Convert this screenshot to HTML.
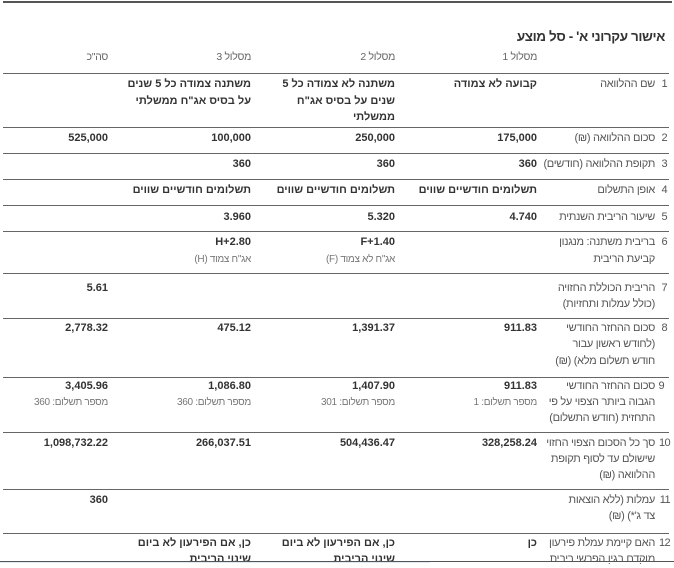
<!DOCTYPE html>
<html lang="he">
<head>
<meta charset="utf-8">
<style>
  html,body{margin:0;padding:0;background:#fff;}
  body{width:674px;height:563px;position:relative;overflow:hidden;
       font-family:"Liberation Sans","DejaVu Sans",sans-serif;}
  .t{position:absolute;direction:rtl;white-space:nowrap;text-align:right;line-height:16.5px;}
  .lbl{font-size:11px;letter-spacing:-0.3px;color:#555;}
  .num{font-size:11px;letter-spacing:-0.6px;color:#555;}
  .v{font-size:11px;font-weight:bold;color:#333;}
  .s{font-size:10px;letter-spacing:-0.3px;color:#777;}
  .h{font-size:10.5px;letter-spacing:-0.3px;color:#666;}
  .hl{position:absolute;left:3px;width:666px;height:1.5px;background:#666;}
</style>
</head>
<body>
<div style="position:absolute;left:3px;top:1px;width:669px;height:1.5px;background:#555;"></div>

<div class="t" style="right:9px;top:27px;font-size:13.5px;letter-spacing:-0.4px;font-weight:bold;color:#333;line-height:20px;">אישור עקרוני א' - סל מוצע</div>

<div class="t h" style="right:137px;top:48.5px;">מסלול 1</div>
<div class="t h" style="right:279px;top:48.5px;">מסלול 2</div>
<div class="t h" style="right:423px;top:48.5px;">מסלול 3</div>
<div class="t h" style="right:566px;top:48.5px;">סה"כ</div>

<div class="hl" style="top:72.5px"></div>
<div class="hl" style="top:126.5px"></div>
<div class="hl" style="top:152.5px"></div>
<div class="hl" style="top:178.5px"></div>
<div class="hl" style="top:204.5px"></div>
<div class="hl" style="top:230.5px"></div>
<div class="hl" style="top:272.5px"></div>
<div class="hl" style="top:317.5px"></div>
<div class="hl" style="top:376.5px"></div>
<div class="hl" style="top:431.5px"></div>
<div class="hl" style="top:488.5px"></div>
<div class="hl" style="top:532.5px"></div>

<!-- Row 1 -->
<div class="t num" style="right:7px;top:76px;">1</div>
<div class="t lbl" style="right:19px;top:76px;">שם ההלוואה</div>
<div class="t v" style="right:137px;top:76px;">קבועה לא צמודה</div>
<div class="t v" style="right:279px;top:76px;">משתנה לא צמודה כל 5<br>שנים על בסיס אג"ח<br>ממשלתי</div>
<div class="t v" style="right:423px;top:76px;">משתנה צמודה כל 5 שנים<br>על בסיס אג"ח ממשלתי</div>

<!-- Row 2 -->
<div class="t num" style="right:7px;top:129.5px;">2</div>
<div class="t lbl" style="right:19px;top:129.5px;">סכום ההלוואה (₪)</div>
<div class="t v" style="right:137px;top:129.5px;">175,000</div>
<div class="t v" style="right:279px;top:129.5px;">250,000</div>
<div class="t v" style="right:423px;top:129.5px;">100,000</div>
<div class="t v" style="right:566px;top:129.5px;">525,000</div>

<!-- Row 3 -->
<div class="t num" style="right:7px;top:155.5px;">3</div>
<div class="t lbl" style="right:19px;top:155.5px;">תקופת ההלוואה (חודשים)</div>
<div class="t v" style="right:137px;top:155.5px;">360</div>
<div class="t v" style="right:279px;top:155.5px;">360</div>
<div class="t v" style="right:423px;top:155.5px;">360</div>

<!-- Row 4 -->
<div class="t num" style="right:7px;top:181.5px;">4</div>
<div class="t lbl" style="right:19px;top:181.5px;">אופן התשלום</div>
<div class="t v" style="right:137px;top:181.5px;">תשלומים חודשיים שווים</div>
<div class="t v" style="right:279px;top:181.5px;">תשלומים חודשיים שווים</div>
<div class="t v" style="right:423px;top:181.5px;">תשלומים חודשיים שווים</div>

<!-- Row 5 -->
<div class="t num" style="right:7px;top:208.5px;">5</div>
<div class="t lbl" style="right:19px;top:208.5px;">שיעור הריבית השנתית</div>
<div class="t v" style="right:137px;top:208.5px;">4.740</div>
<div class="t v" style="right:279px;top:208.5px;">5.320</div>
<div class="t v" style="right:423px;top:208.5px;">3.960</div>

<!-- Row 6 -->
<div class="t num" style="right:7px;top:233.5px;">6</div>
<div class="t lbl" style="right:19px;top:233.5px;line-height:17.5px;">בריבית משתנה: מנגנון<br>קביעת הריבית</div>
<div class="t v" style="right:279px;top:233.5px;">F+1.40</div>
<div class="t s" style="right:279px;top:251.5px;">אג"ח לא צמוד (F)</div>
<div class="t v" style="right:423px;top:233.5px;">H+2.80</div>
<div class="t s" style="right:423px;top:251.5px;">אג"ח צמוד (H)</div>

<!-- Row 7 -->
<div class="t num" style="right:7px;top:279.5px;">7</div>
<div class="t lbl" style="right:19px;top:279.5px;">הריבית הכוללת החזויה<br>(כולל עמלות ותחזיות)</div>
<div class="t v" style="right:566px;top:279.5px;">5.61</div>

<!-- Row 8 -->
<div class="t num" style="right:7px;top:319.5px;">8</div>
<div class="t lbl" style="right:19px;top:319.5px;line-height:16.7px;">סכום ההחזר החודשי<br>(לחודש ראשון עבור<br>חודש תשלום מלא) (₪)</div>
<div class="t v" style="right:137px;top:319.5px;">911.83</div>
<div class="t v" style="right:279px;top:319.5px;">1,391.37</div>
<div class="t v" style="right:423px;top:319.5px;">475.12</div>
<div class="t v" style="right:566px;top:319.5px;">2,778.32</div>

<!-- Row 9 -->
<div class="t num" style="right:10px;top:377.5px;">9</div>
<div class="t lbl" style="right:19px;top:377.5px;line-height:16.2px;">סכום ההחזר החודשי<br>הגבוה ביותר הצפוי על פי<br>התחזית (חודש התשלום)</div>
<div class="t v" style="right:137px;top:377.5px;">911.83</div>
<div class="t s" style="right:137px;top:394.5px;">מספר תשלום: 1</div>
<div class="t v" style="right:279px;top:377.5px;">1,407.90</div>
<div class="t s" style="right:279px;top:394.5px;">מספר תשלום: 301</div>
<div class="t v" style="right:423px;top:377.5px;">1,086.80</div>
<div class="t s" style="right:423px;top:394.5px;">מספר תשלום: 360</div>
<div class="t v" style="right:566px;top:377.5px;">3,405.96</div>
<div class="t s" style="right:566px;top:394.5px;">מספר תשלום: 360</div>

<!-- Row 10 -->
<div class="t num" style="right:4px;top:434.5px;">10</div>
<div class="t lbl" style="right:19px;top:434.5px;line-height:16.2px;">סך כל הסכום הצפוי החזוי<br>שישולם עד לסוף תקופת<br>ההלוואה (₪)</div>
<div class="t v" style="right:137px;top:434.5px;">328,258.24</div>
<div class="t v" style="right:279px;top:434.5px;">504,436.47</div>
<div class="t v" style="right:423px;top:434.5px;">266,037.51</div>
<div class="t v" style="right:566px;top:434.5px;">1,098,732.22</div>

<!-- Row 11 -->
<div class="t num" style="right:4px;top:491.5px;">11</div>
<div class="t lbl" style="right:19px;top:491.5px;">עמלות (ללא הוצאות<br>צד ג'*) (₪)</div>
<div class="t v" style="right:566px;top:491.5px;">360</div>

<!-- Row 12 -->
<div class="t num" style="right:4px;top:534.5px;">12</div>
<div class="t lbl" style="right:19px;top:534.5px;">האם קיימת עמלת פירעון<br>מוקדם בגין הפרשי ריבית</div>
<div class="t v" style="right:137px;top:534.5px;">כן</div>
<div class="t v" style="right:279px;top:534.5px;">כן, אם הפירעון לא ביום<br>שינוי הריבית</div>
<div class="t v" style="right:423px;top:534.5px;">כן, אם הפירעון לא ביום<br>שינוי הריבית</div>

<!-- bottom strip -->
<div style="position:absolute;left:0;top:561px;width:674px;height:2px;background:#fff;"></div>
<div style="position:absolute;left:0;top:561px;width:674px;height:1px;background:#555;"></div>
<div style="position:absolute;left:0;top:562px;width:430px;height:1px;background:#dfe7f1;"></div>
</body>
</html>
